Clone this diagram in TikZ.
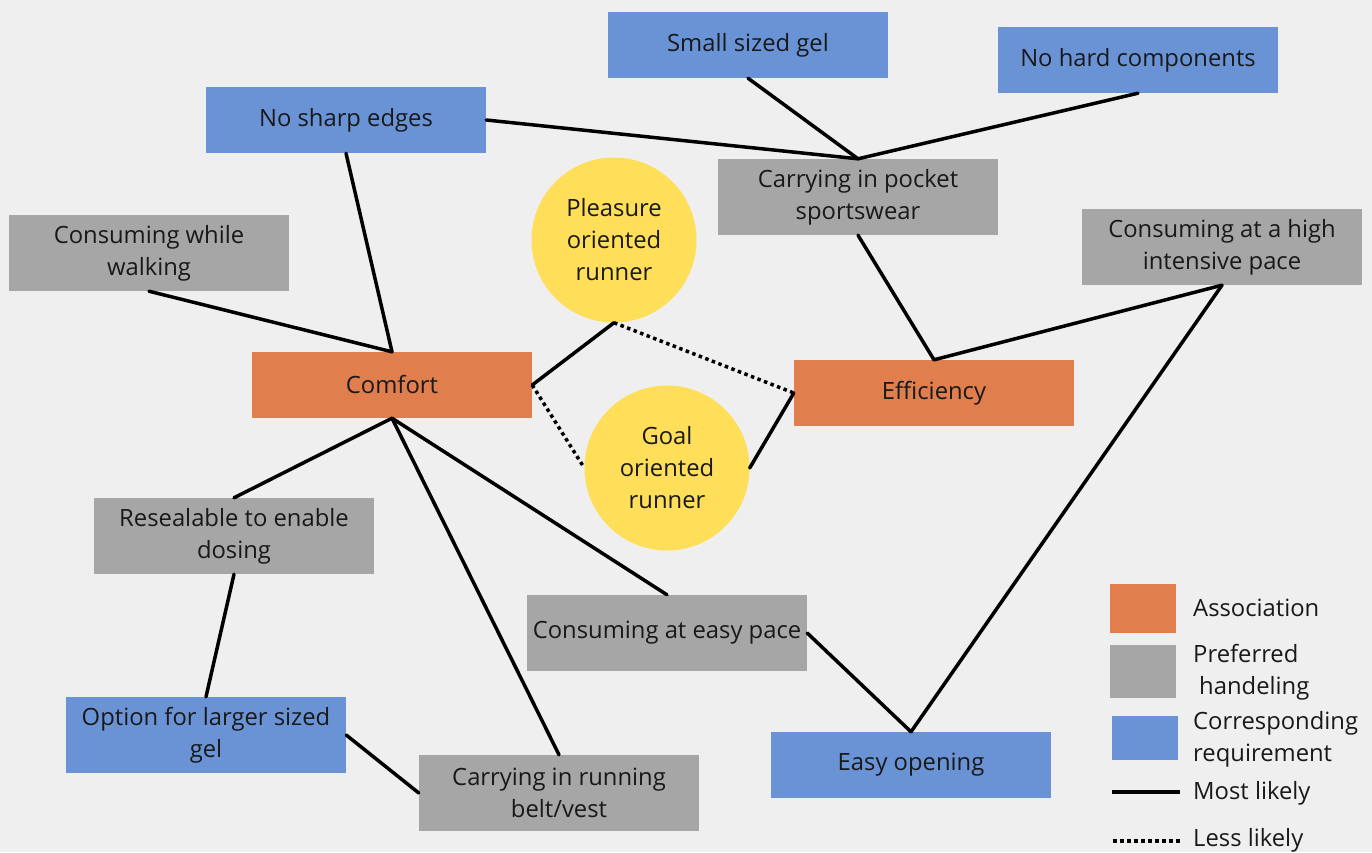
\documentclass[tikz,border=0pt]{standalone}
\usepackage{fontspec}
\setmainfont{Open Sans}
\definecolor{bg}{HTML}{EFEFEF}
\definecolor{assoc}{HTML}{E07E4E}
\definecolor{handle}{HTML}{A6A6A6}
\definecolor{req}{HTML}{6A93D6}
\definecolor{runner}{HTML}{FFDE59}
\begin{document}
\begin{tikzpicture}[x=1pt,y=-1pt,
  every node/.style={font=\fontsize{23.8}{32}\selectfont, text=black!90, inner sep=0pt, align=center},
  box/.style={rectangle, minimum width=280pt},
  assocbox/.style={box, fill=assoc, minimum height=66pt},
  handlebox/.style={box, fill=handle, minimum height=76pt},
  reqbox/.style={box, fill=req, minimum height=66pt},
  runnercirc/.style={circle, fill=runner, minimum size=165pt},
  likely/.style={line width=3.5pt, line cap=round},
  lesslikely/.style={line width=3.5pt, dash pattern=on 3.5pt off 3.5pt},
  legtext/.style={anchor=west, align=left}]
\useasboundingbox[fill=bg] (0,0) rectangle (1372,852);

% requirements
\node[reqbox] (ssg) at (748,45) {Small sized gel};
\node[reqbox] (nhc) at (1138,60) {No hard components};
\node[reqbox] (nse) at (346,120) {No sharp edges};
\node[reqbox, minimum height=76pt] (opt) at (206,735) {Option for larger sized\\gel};
\node[reqbox] (eo) at (911,765) {Easy opening};

% preferred handling
\node[handlebox] (cps) at (858,197) {Carrying in pocket\\sportswear};
\node[handlebox] (cww) at (149,253) {Consuming while\\walking};
\node[handlebox] (hi) at (1222,247) {Consuming at a high\\intensive pace};
\node[handlebox] (res) at (234,536) {Resealable to enable\\dosing};
\node[handlebox] (pace) at (667,633) {Consuming at easy pace};
\node[handlebox] (belt) at (559,793) {Carrying in running\\belt/vest};

% associations
\node[assocbox] (comfort) at (392,385) {Comfort};
\node[assocbox] (eff) at (934,393) {Efficiency};

% runner types
\node[runnercirc] (pl) at (614,240) {Pleasure\\oriented\\runner};
\node[runnercirc] (goal) at (667,468) {Goal\\oriented\\runner};

% connections
\draw[likely] (nse.east) -- (cps.north);
\draw[likely] (ssg.south) -- (cps.north);
\draw[likely] (nhc.south) -- (cps.north);
\draw[likely] (cps.south) -- (eff.north);
\draw[likely] (nse.south) -- (comfort.north);
\draw[likely] (cww.south) -- (comfort.north);
\draw[likely] (pl.south) -- (comfort.east);
\draw[lesslikely] (pl.south) -- (eff.west);
\draw[lesslikely] (comfort.east) -- (goal.west);
\draw[likely] (goal.east) -- (eff.west);
\draw[likely] (eff.north) -- (hi.south);
\draw[likely] (hi.south) -- (eo.north);
\draw[likely] (comfort.south) -- (res.north);
\draw[likely] (comfort.south) -- (pace.north);
\draw[likely] (comfort.south) -- (belt.north);
\draw[likely] (res.south) -- (opt.north);
\draw[likely] (opt.east) -- (belt.west);
\draw[likely] (pace.east) -- (eo.north);

% legend
\node[rectangle, fill=assoc, minimum width=66pt, minimum height=49pt] (lga) at (1143,608.5) {};
\node[rectangle, fill=handle, minimum width=66pt, minimum height=53pt] (lgh) at (1143,671.5) {};
\node[rectangle, fill=req, minimum width=66pt, minimum height=44pt] (lgr) at (1145,738) {};
\coordinate (lml1) at (1112,792);
\coordinate (lml2) at (1180,792);
\coordinate (lll1) at (1113,841);
\coordinate (lll2) at (1180,841);
\draw[line width=3.5pt] (lml1) -- (lml2);
\draw[lesslikely] (lll1) -- (lll2);
\node[legtext] (lta) at (1193,608) {Association};
\node[legtext] (lth) at (1193,672) {Preferred\\\hspace{6pt}handeling};
\node[legtext] (ltr) at (1193,739) {Corresponding\\requirement};
\node[legtext] (ltm) at (1193,793) {Most likely};
\node[legtext] (ltl) at (1193,840) {Less likely};
\end{tikzpicture}
\end{document}
